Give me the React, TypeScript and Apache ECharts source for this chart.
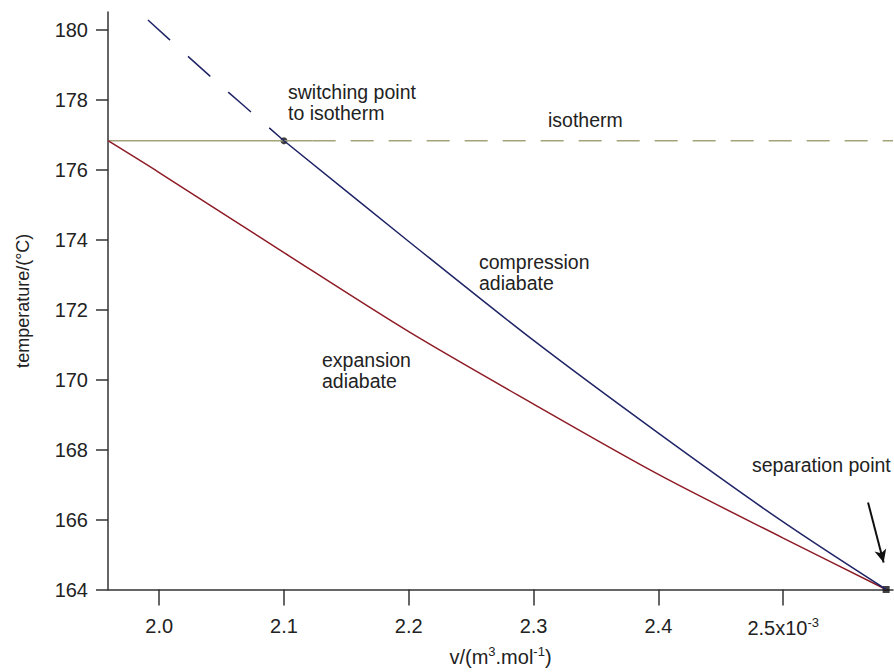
import React, { useEffect, useRef } from "react";
import * as echarts from "echarts";

const vTicks = [2.0, 2.1, 2.2, 2.3, 2.4, 2.5];
const tTicks = [164, 166, 168, 170, 172, 174, 176, 178, 180];

const isothermT = 176.83;
const isothermSolidV = [1.959, 2.123];
const isothermDashedV = [2.123, 2.588];

const compressionDashed = [
  [1.991, 180.28],
  [2.041, 178.67],
  [2.1, 176.83],
];
const compressionSolid = [
  [2.1, 176.83],
  [2.2, 173.95],
  [2.3, 171.12],
  [2.4, 168.47],
  [2.5, 165.93],
  [2.5825, 164.0],
];
const expansion = [
  [1.959, 176.83],
  [2.0, 175.92],
  [2.1, 173.63],
  [2.2, 171.37],
  [2.3, 169.3],
  [2.4, 167.29],
  [2.5, 165.47],
  [2.5825, 164.0],
];
const switchingPoint = [[2.1, 176.83]];
const separationPoint = [[2.5825, 164.0]];
const arrowStart = [2.568, 166.49];
const arrowEnd = [2.5805, 164.77];

const FONT = "'Liberation Sans', Arial, Helvetica, sans-serif";
const TXT = "#222";

export default function App() {
  const ref = useRef<HTMLDivElement>(null);
  useEffect(() => {
    if (!ref.current) return;
    const chart = echarts.init(ref.current, undefined, { renderer: "svg" });
    const annot = (text: string, left: number, top: number) => ({
      type: "text",
      left,
      top,
      style: { text, fill: TXT, font: `19.5px ${FONT}`, lineHeight: 21 },
    });
    chart.setOption({
      animation: false,
      backgroundColor: "#fff",
      grid: { left: 108, right: 1, top: 12, bottom: 77, containLabel: false },
      xAxis: {
        type: "value",
        min: 1.959,
        max: 2.588,
        name: "v/(m{sup|3}.mol{sup|-1})",
        nameLocation: "middle",
        nameGap: 55,
        nameTextStyle: {
          color: TXT,
          fontFamily: FONT,
          fontSize: 20,
          rich: {
            sup: { fontSize: 13, fontFamily: FONT, color: TXT, padding: [0, 0, 12, 0] },
          },
        },
        axisLine: { show: true, lineStyle: { color: "#333", width: 1.5 } },
        axisTick: { show: true, customValues: vTicks, length: 16, lineStyle: { color: "#333", width: 1.5 } },
        axisLabel: {
          customValues: vTicks,
          margin: 26,
          color: TXT,
          fontFamily: FONT,
          fontSize: 20,
          formatter: (v: number) => (Math.abs(v - 2.5) < 1e-9 ? "2.5x10{sup|-3}" : v.toFixed(1)),
          rich: {
            sup: { fontSize: 13, fontFamily: FONT, color: TXT, padding: [0, 0, 12, 0] },
          },
        },
        splitLine: { show: false },
      },
      yAxis: {
        type: "value",
        min: 164,
        max: 180.51,
        name: "temperature/(°C)",
        nameLocation: "middle",
        nameGap: 76,
        nameTextStyle: { color: TXT, fontFamily: FONT, fontSize: 18 },
        axisLine: { show: true, lineStyle: { color: "#333", width: 1.5 } },
        axisTick: { show: true, customValues: tTicks, length: 12, lineStyle: { color: "#333", width: 1.5 } },
        axisLabel: { customValues: tTicks, margin: 20, color: TXT, fontFamily: FONT, fontSize: 20 },
        splitLine: { show: false },
      },
      series: [
        {
          type: "line",
          name: "isotherm solid",
          data: isothermSolidV.map((v) => [v, isothermT]),
          symbol: "none",
          lineStyle: { color: "#a3a37a", width: 1.5 },
        },
        {
          type: "line",
          name: "isotherm dashed",
          data: isothermDashedV.map((v) => [v, isothermT]),
          symbol: "none",
          lineStyle: { color: "#a3a37a", width: 1.5, type: [23, 15] },
        },
        {
          type: "line",
          name: "expansion adiabate",
          data: expansion,
          symbol: "none",
          smooth: 0.3,
          lineStyle: { color: "#8e1b26", width: 1.5 },
        },
        {
          type: "line",
          name: "compression dashed",
          data: compressionDashed,
          symbol: "none",
          smooth: 0.3,
          lineStyle: { color: "#1f2466", width: 1.5, type: [30, 24] },
        },
        {
          type: "line",
          name: "compression adiabate",
          data: compressionSolid,
          symbol: "none",
          smooth: 0.3,
          lineStyle: { color: "#1f2466", width: 1.5 },
          markLine: {
            silent: true,
            symbol: ["none", "arrow"],
            symbolSize: [9, 13],
            label: { show: false },
            lineStyle: { color: "#111", width: 2, type: "solid" },
            data: [[{ coord: arrowStart }, { coord: arrowEnd }]],
          },
        },
        {
          type: "scatter",
          name: "switching point",
          data: switchingPoint,
          symbol: "circle",
          symbolSize: 7,
          itemStyle: { color: "#111" },
        },
        {
          type: "scatter",
          name: "separation point",
          data: separationPoint,
          symbol: "rect",
          symbolSize: 7,
          itemStyle: { color: "#111" },
        },
      ],
      graphic: [
        annot("switching point\nto isotherm", 288, 81),
        annot("isotherm", 548, 109),
        annot("compression\nadiabate", 479, 251),
        annot("expansion\nadiabate", 322, 349),
        annot("separation point", 752, 454),
      ],
    });
    return () => chart.dispose();
  }, []);
  return (
    <div
      ref={ref}
      style={{ position: "fixed", left: 0, top: 0, width: 894, height: 672, background: "#fff" }}
    />
  );
}
